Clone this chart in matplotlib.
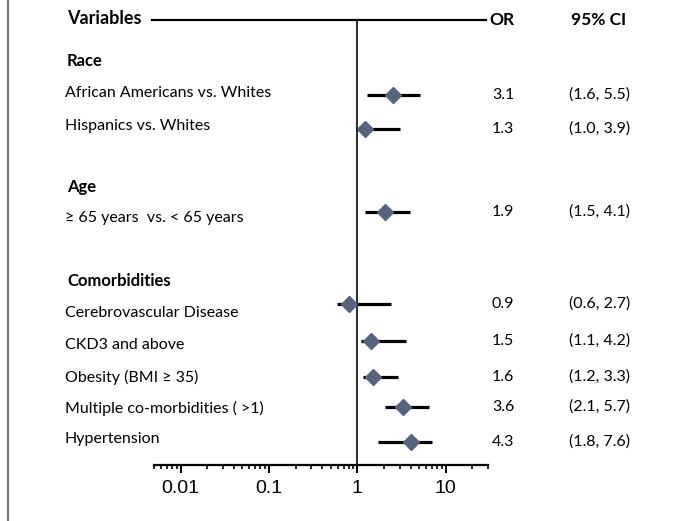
import matplotlib.pyplot as plt
from matplotlib.lines import Line2D
from matplotlib.ticker import LogLocator, NullFormatter, FixedLocator, FixedFormatter

W, H = 675, 521

# groups / rows as printed
headers = ['Race', 'Age', 'Comorbidities']
labels = ['African Americans vs. Whites', 'Hispanics vs. Whites',
          '\u2265 65 years  vs. < 65 years',
          'Cerebrovascular Disease', 'CKD3 and above', 'Obesity (BMI \u2265 35)',
          'Multiple co-morbidities ( >1)', 'Hypertension']
or_text = ['3.1', '1.3', '1.9', '0.9', '1.5', '1.6', '3.6', '4.3']
ci_text = ['(1.6, 5.5)', '(1.0, 3.9)', '(1.5, 4.1)', '(0.6, 2.7)',
           '(1.1, 4.2)', '(1.2, 3.3)', '(2.1, 5.7)', '(1.8, 7.6)']

# marker / whisker positions as drawn in the figure
or_plot = [2.5, 1.22, 2.05, 0.81, 1.43, 1.52, 3.3, 4.0]
lo_plot = [1.28, 0.97, 1.22, 0.59, 1.1, 1.15, 2.06, 1.71]
hi_plot = [5.1, 3.05, 3.95, 2.4, 3.55, 2.9, 6.5, 7.0]

# vertical layout (pixel rows)
header_y = [61, 187, 281]
label_y = [93, 126, 218, 313, 345, 377, 408, 439]
mark_y = [95, 129, 212, 304, 341, 377, 407, 442]

text_font = ['Lato', 'DejaVu Sans']
fs = 11.5


def fx(px):
    return px / W


def fy(py):
    return 1 - py / H


fig = plt.figure(figsize=(W / 100, H / 100), dpi=100)
ax = fig.add_axes([fx(154), fy(465), (488 - 154) / W, (465 - 20) / H])
ax.set_xscale('log')
ax.set_xlim(0.005, 30)
ax.set_ylim(465, 20)

for s in ['top', 'right', 'left']:
    ax.spines[s].set_visible(False)
ax.spines['bottom'].set_linewidth(1.6)
ax.set_yticks([])

ax.xaxis.set_major_locator(FixedLocator([0.01, 0.1, 1, 10]))
ax.xaxis.set_major_formatter(FixedFormatter(['0.01', '0.1', '1', '10']))
ax.xaxis.set_minor_locator(LogLocator(base=10, subs=range(2, 10), numticks=20))
ax.xaxis.set_minor_formatter(NullFormatter())
ax.tick_params(axis='x', which='major', length=6, width=1.4, pad=5,
               labelsize=14, direction='out')
ax.tick_params(axis='x', which='minor', length=3, width=1.2, direction='out')
for t in ax.get_xticklabels():
    t.set_fontfamily('Liberation Sans')

ax.axvline(1, color='#333333', lw=1.5, zorder=1)

for y, m, lo, hi in zip(mark_y, or_plot, lo_plot, hi_plot):
    ax.plot([lo, hi], [y, y], color='black', lw=2.3, zorder=2, solid_capstyle='butt')
    ax.plot(m, y, marker='D', ms=8, color='#56657d', mec='#56657d', zorder=3)

# top rule and left frame line
fig.add_artist(Line2D([fx(152), fx(486)], [fy(20), fy(20)], color='black', lw=1.6))
fig.add_artist(Line2D([fx(8), fx(8)], [0, 1], color='#555555', lw=1.2))

fig.text(fx(67), fy(19), 'Variables', fontsize=13, fontweight='bold',
         family=text_font, va='center')
fig.text(fx(489), fy(20), 'OR', fontsize=12.5, fontweight='bold',
         family=text_font, va='center')
fig.text(fx(571), fy(20), '95% CI', fontsize=12.5, fontweight='bold',
         family=text_font, va='center')

for h, y in zip(headers, header_y):
    fig.text(fx(67), fy(y), h, fontsize=12, fontweight='bold',
             family=text_font, va='center')

for lab, y in zip(labels, label_y):
    fig.text(fx(65), fy(y), lab, fontsize=fs, family=text_font, va='center')

for o, c, y in zip(or_text, ci_text, mark_y):
    fig.text(fx(492), fy(y), o, fontsize=fs, family=text_font, va='center')
    fig.text(fx(569), fy(y), c, fontsize=fs, family=text_font, va='center')

fig.savefig('out.png', dpi=100)
